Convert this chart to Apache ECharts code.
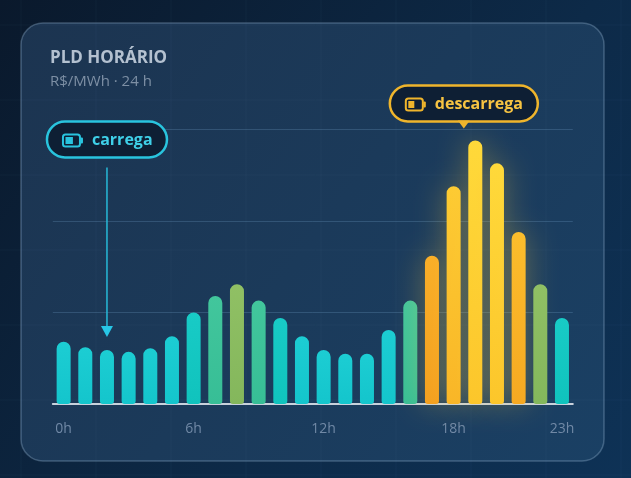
<!DOCTYPE html>
<html><head><meta charset="utf-8">
<script src="https://cdn.jsdelivr.net/npm/echarts@6/dist/echarts.min.js"></script>
<style>html,body{margin:0;padding:0;background:#0b1c31;}#c{width:631px;height:478px;}</style>
</head><body><div id="c"></div>
<script>
const hours = ['0h','1h','2h','3h','4h','5h','6h','7h','8h','9h','10h','11h','12h','13h','14h','15h','16h','17h','18h','19h','20h','21h','22h','23h'];
const pld = [68,62,59,57,61,74,100,118,131,113,94,74,59,55,55,81,113,162,238,288,263,188,131,94];
const shownTicks = [0,6,12,18,23];
const yTicks = [0,100,200,300];
const title = 'PLD HORÁRIO';
const subtitle = 'R$/MWh · 24 h';
const chargeHour = 2, dischargeHour = 19;

const FONT = '"Open Sans", "Noto Sans", sans-serif';
function barColor(v){
  if (v >= 250) return ['#ffd93a','#fcc62a'];
  if (v >= 200) return ['#fdcb32','#f9b526'];
  if (v >= 180) return ['#fbbd2c','#f6a922'];
  if (v >= 150) return ['#f9ad27','#f39f1f'];
  if (v >= 125) return ['#90c064','#84b75c'];
  if (v >= 105) return ['#42c69c','#37be96'];
  if (v >= 90) return ['#18cbc6','#10c3bd'];
  return ['#1ccdd3','#14c5cc'];
}
const chart = echarts.init(document.getElementById('c'), null, {renderer:'canvas'});
const barData = pld.map(v => {
  const c = barColor(v);
  const hot = v >= 150;
  return {value: v, itemStyle: {
    color: new echarts.graphic.LinearGradient(0,0,0,1,[{offset:0,color:c[0]},{offset:1,color:c[1]}]),
    borderRadius:[7,7,3,3],
    shadowBlur: hot ? 30 : 0,
    shadowColor: hot ? 'rgba(255,205,60,0.4)' : 'transparent'
  }};
});

function bgGraphics(){
  const g = [];
  g.push({type:'rect', z:-10, silent:true, shape:{x:0,y:0,width:631,height:478},
    style:{fill:new echarts.graphic.LinearGradient(0,0,1,1,[{offset:0,color:'#0a192c'},{offset:0.6,color:'#0d2a48'},{offset:1,color:'#0e3256'}])}});
  g.push({type:'rect', z:-9, silent:true, shape:{x:21,y:23,width:583,height:438,r:22},
    style:{fill:new echarts.graphic.LinearGradient(0,0,1,1,[{offset:0,color:'#1c3450'},{offset:1,color:'#1a4064'}]),
      stroke:'rgba(150,180,210,0.35)', lineWidth:1.5}});
  for (let x=21; x<631; x+=75) g.push({type:'line', z:-8, silent:true, shape:{x1:x,y1:0,x2:x,y2:478}, style:{stroke:'rgba(140,180,220,0.05)',lineWidth:1}});
  for (let y=25; y<478; y+=75) g.push({type:'line', z:-8, silent:true, shape:{x1:0,y1:y,x2:631,y2:y}, style:{stroke:'rgba(140,180,220,0.05)',lineWidth:1}});
  g.push({type:'text', z:5, left:50, top:50, style:{text:title, fill:'#b4c1d0', font:'bold 17px '+FONT}});
  g.push({type:'text', z:5, left:50, top:74, style:{text:subtitle, fill:'#7d8fa4', font:'500 15px '+FONT}});
  return g;
}

function badge(cx, top, w, text, stroke, txt, fillFrac){
  const x0 = cx - w/2, h = 36;
  return [
    {type:'rect', z:20, shape:{x:x0,y:top,width:w,height:h,r:18}, style:{fill:'#0e1f34', stroke:stroke, lineWidth:2.5}},
    {type:'rect', z:21, shape:{x:x0+16,y:top+13,width:17,height:12,r:2.5}, style:{fill:'none', stroke:stroke, lineWidth:2}},
    {type:'rect', z:21, shape:{x:x0+18.5,y:top+15.5,width:12*fillFrac,height:7}, style:{fill:stroke}},
    {type:'rect', z:21, shape:{x:x0+33.5,y:top+16,width:2.5,height:6,r:1}, style:{fill:stroke}},
    {type:'text', z:21, style:{text:text, x:x0+45, y:top+h/2+0.5, fill:txt, font:'bold 16px '+FONT, verticalAlign:'middle', align:'left'}}
  ];
}

const option = {
  animation:false,
  grid:{left:52.8, right:58.2, top:129.5, bottom:74},
  xAxis:{type:'category', data:hours,
    axisLine:{lineStyle:{color:'#c8d1dc', width:2}},
    axisTick:{show:false},
    axisLabel:{interval:(i)=>shownTicks.includes(i), color:'#7189a6', fontSize:14, fontWeight:500, fontFamily:FONT, margin:18}},
  yAxis:{type:'value', min:yTicks[0], max:yTicks[yTicks.length-1], interval:yTicks[1]-yTicks[0],
    axisLabel:{show:false}, axisLine:{show:false}, axisTick:{show:false},
    splitLine:{lineStyle:{color:'rgba(130,180,225,0.22)', width:1}}},
  series:[{type:'bar', data:barData, barWidth:14, z:3}],
  graphic: bgGraphics()
};
chart.setOption(option);

const gridTop = 129.5;
const pC = chart.convertToPixel({seriesIndex:0}, [chargeHour, pld[chargeHour]]);
const pD = chart.convertToPixel({seriesIndex:0}, [dischargeHour, pld[dischargeHour]]);
const band = chart.convertToPixel({xAxisIndex:0}, 1) - chart.convertToPixel({xAxisIndex:0}, 0);
const g = bgGraphics();
const cTop = gridTop - 8;
g.push(...badge(pC[0], cTop, 120, 'carrega', '#29c4de', '#3fd0e8', 0.62));
const tipY = pC[1] - 13;
g.push({type:'line', z:19, shape:{x1:pC[0],y1:cTop+46,x2:pC[0],y2:tipY-10}, style:{stroke:'#27b9d8', lineWidth:1.5}});
g.push({type:'polygon', z:19, shape:{points:[[pC[0]-6,tipY-11],[pC[0]+6,tipY-11],[pC[0],tipY]]}, style:{fill:'#27c6e6'}});
const dCx = pD[0] - band*0.53;
const dTop = gridTop - 44;
g.push(...badge(dCx, dTop, 148, 'descarrega', '#efb52c', '#f6c342', 0.5));
g.push({type:'polygon', z:22, shape:{points:[[dCx-6,dTop+35],[dCx+6,dTop+35],[dCx,dTop+43]]}, style:{fill:'#efb52c'}});
chart.setOption({graphic: g}, {replaceMerge:['graphic']});
</script></body></html>
